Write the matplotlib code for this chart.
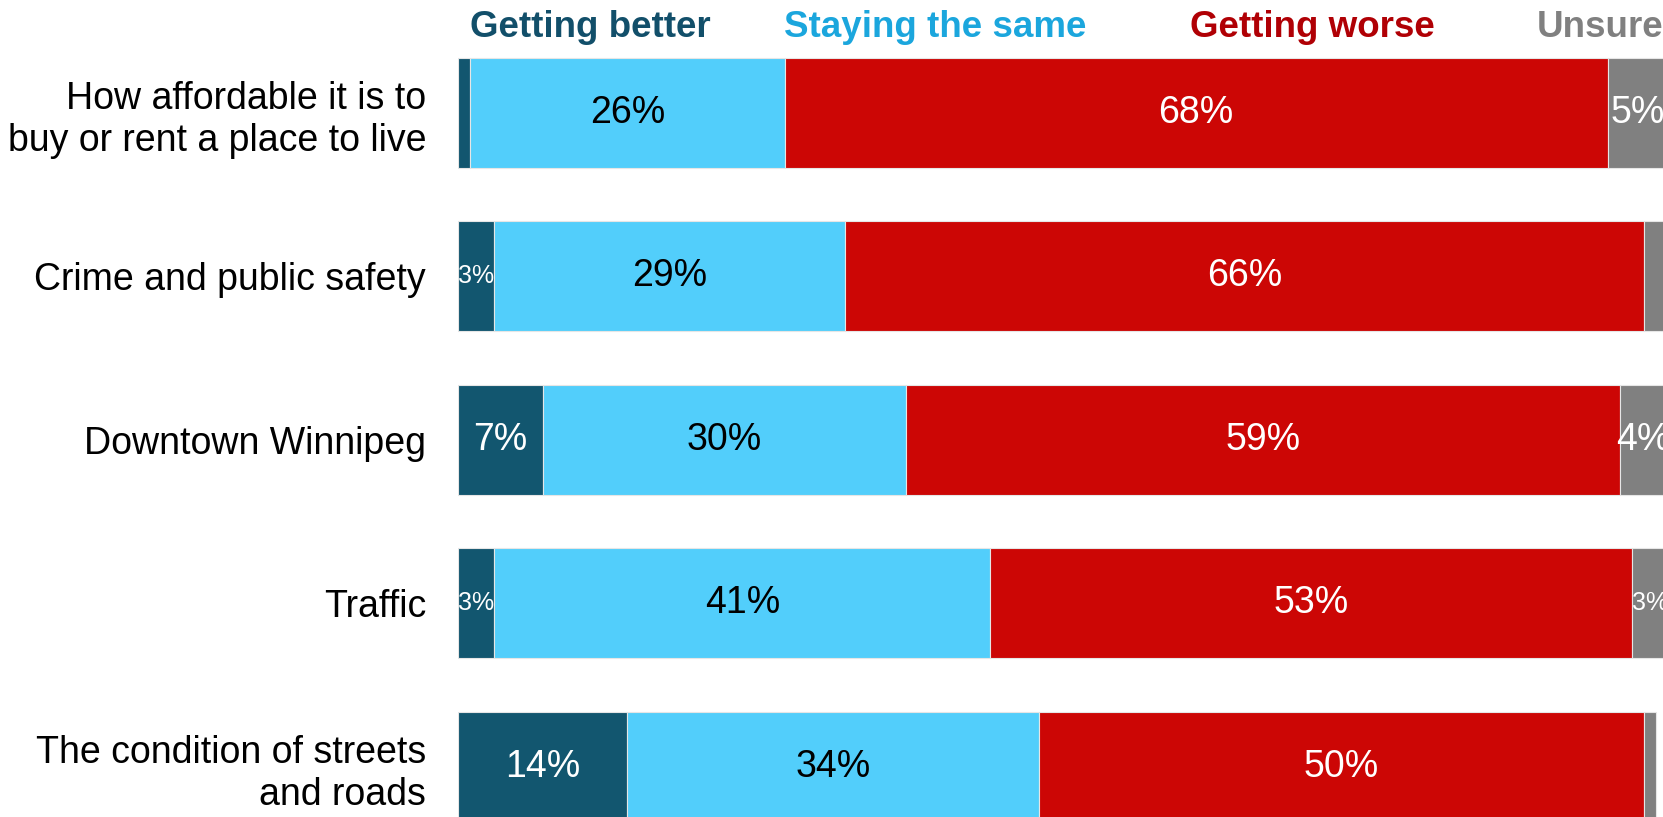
import matplotlib.pyplot as plt
import numpy as np

plt.rcParams["font.family"] = ["Liberation Sans", "DejaVu Sans"]

# data
categories = [
    "How affordable it is to\nbuy or rent a place to live",
    "Crime and public safety",
    "Downtown Winnipeg",
    "Traffic",
    "The condition of streets\nand roads",
]
series_names = ["Getting better", "Staying the same", "Getting worse", "Unsure"]
better = [1, 3, 7, 3, 14]
same = [26, 29, 30, 41, 34]
worse = [68, 66, 59, 53, 50]
unsure = [5, 2, 4, 3, 1]

bar_colors = ["#12566F", "#52CEFB", "#CC0605", "#808080"]
head_colors = ["#124F6A", "#1BA6DD", "#B00005", "#808080"]
text_colors = ["white", "black", "white", "white"]

W, H = 1663, 817
fig = plt.figure(figsize=(W / 100, H / 100), dpi=100)
# axes: 0..100% spans x=458..1668 px (right end is cut off by the canvas)
ax = fig.add_axes([458 / W, 0, 1210 / W, 1])

y = np.arange(len(categories))
left = np.zeros(len(categories))
for vals, col, tcol in zip([better, same, worse, unsure], bar_colors, text_colors):
    vals = np.array(vals, dtype=float)
    ax.barh(y, vals, left=left, height=0.673, color=col,
            edgecolor="#e6e6e6", linewidth=0.8)
    for yi, v, l in zip(y, vals, left):
        if v >= 3:
            size = 18 if v <= 3 else 27
            ax.text(l + v / 2, yi, f"{v:.0f}%", ha="center", va="center",
                    color=tcol, fontsize=size)
    left += vals

ax.set_xlim(0, 100)
ax.set_ylim(4.306, -0.691)
ax.set_yticks(y)
ax.set_yticklabels(categories, fontsize=27, linespacing=1.22)
ax.tick_params(axis="y", length=0, pad=23)
ax.set_xticks([])
for s in ax.spines.values():
    s.set_visible(False)

# header legend
head_x = [590, 935, 1312, 1537]
head_ha = ["center", "center", "center", "left"]
for name, col, hx, ha in zip(series_names, head_colors, head_x, head_ha):
    fig.text(hx / W, 1 - 37 / H, name, color=col, fontsize=26.5,
             fontweight="bold", ha=ha, va="baseline")

fig.savefig("out.png", dpi=100)
